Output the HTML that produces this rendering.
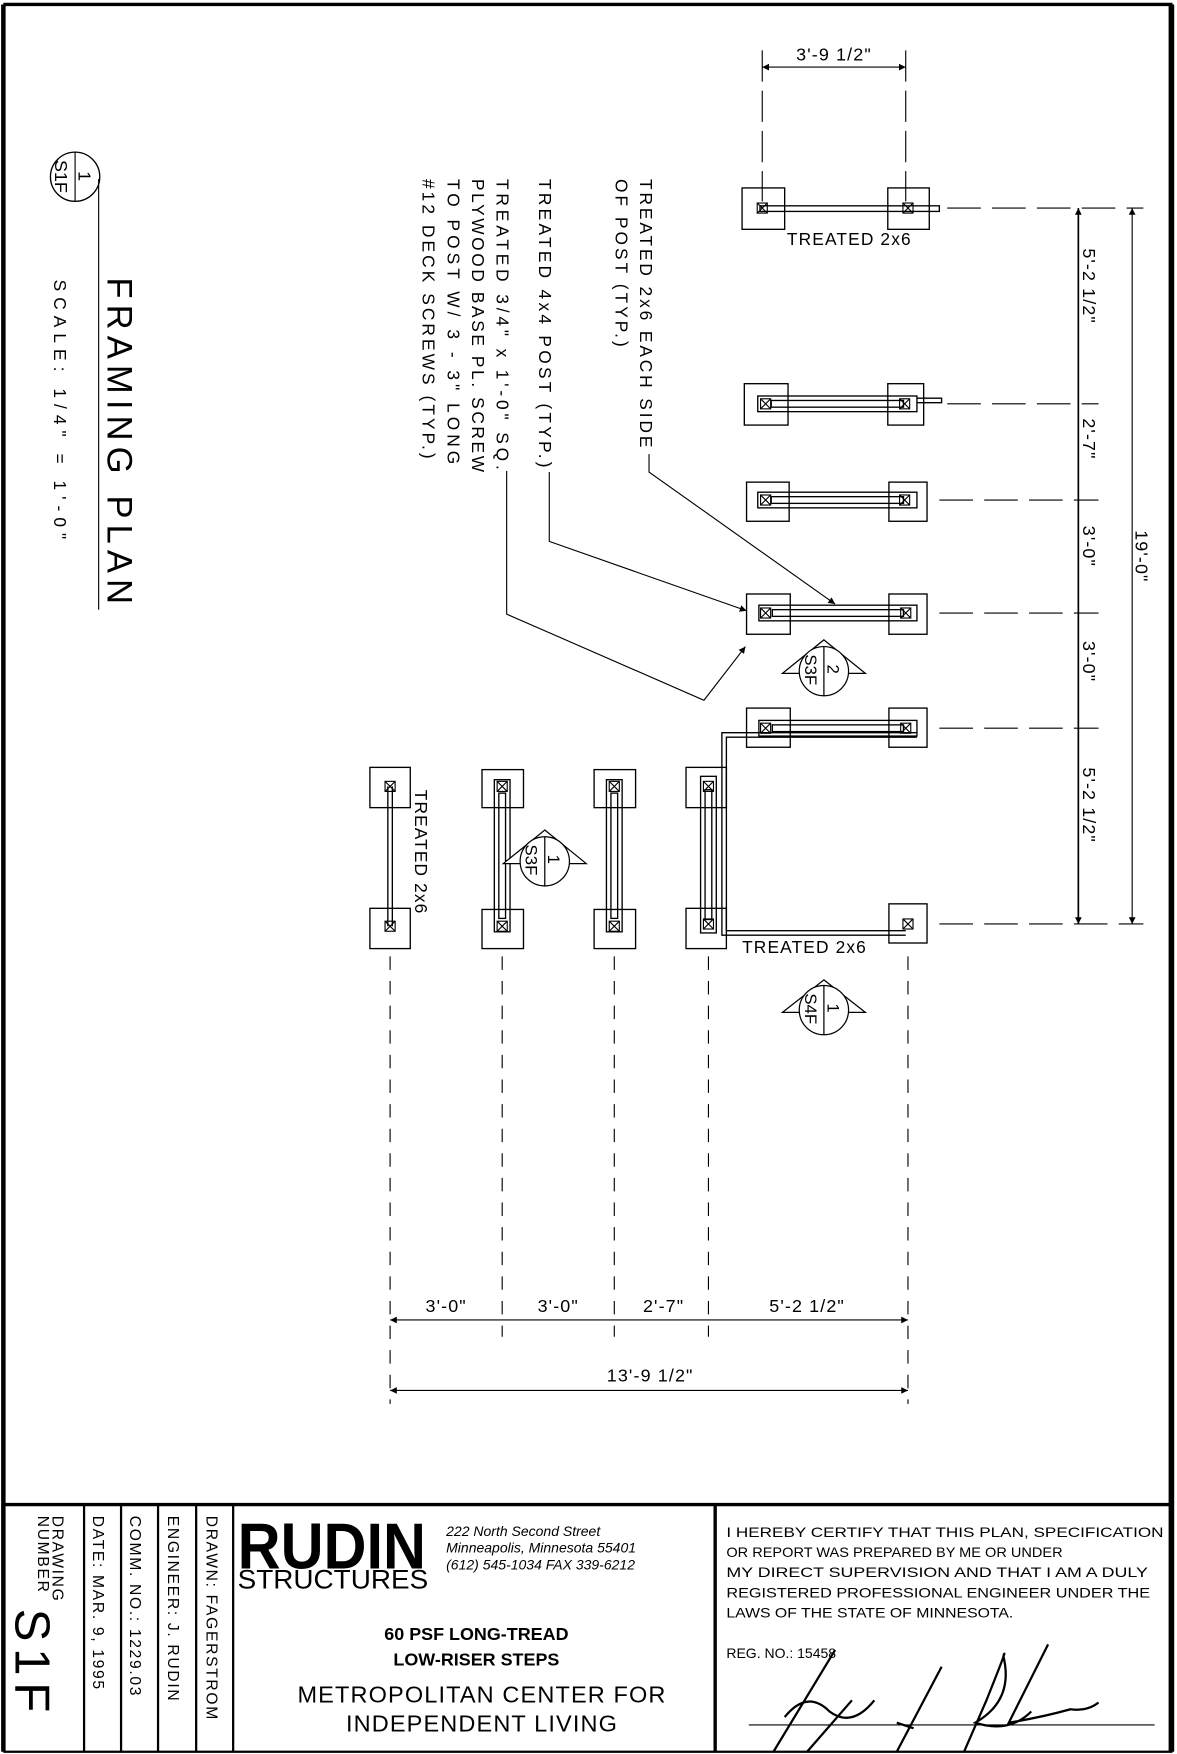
<!DOCTYPE html>
<html><head><meta charset="utf-8"><style>
html,body{margin:0;padding:0;background:#fff}
svg{display:block}
text{font-family:"Liberation Sans",sans-serif;fill:#000}
</style></head><body>
<svg width="1177" height="1754" viewBox="0 0 1050 1568" preserveAspectRatio="none" xmlns="http://www.w3.org/2000/svg">
<defs>
<g id="p" fill="none" stroke="#000" stroke-width="1"><rect x="-4.5" y="-4.5" width="9" height="9"/><path d="M-4.5-4.5L4.5 4.5M4.5-4.5L-4.5 4.5"/></g>
<marker id="ar" viewBox="0 0 10 10" refX="10" refY="5" markerWidth="10" markerHeight="6" orient="auto-start-reverse" markerUnits="userSpaceOnUse"><path d="M0 0L10 5L0 10z" fill="#000"/></marker>
</defs>
<rect width="1050" height="1568" fill="#fff"/>
<g fill="none" stroke="#000">
<path d="M3 4H1046" stroke-width="3"/>
<path d="M1045 4V1566" stroke-width="5"/>
<path d="M3 4V1566" stroke-width="4"/>
<path d="M3 1345H1046" stroke-width="3"/>
<path d="M3 1566H1046" stroke-width="2"/>
<path d="M75 1345V1566M108 1345V1566M141 1345V1566M175 1345V1566M208 1345V1566" stroke-width="2"/>
<path d="M638 1345V1566" stroke-width="3"/>
</g>

<circle cx="67" cy="158" r="22" fill="none" stroke="#000" stroke-width="1.2"/>
<path d="M67 136V180M88 160V545" stroke="#000" stroke-width="1"/>
<text transform="translate(70,153) rotate(90)" font-size="16">1</text>
<text transform="translate(49,143) rotate(90)" font-size="16">S1F</text>
<text transform="translate(96,248) rotate(90)" font-size="31" textLength="292" lengthAdjust="spacing">FRAMING PLAN</text>
<text transform="translate(48,250) rotate(90)" font-size="15.5" textLength="232" lengthAdjust="spacing">SCALE: 1/4" = 1'-0"</text>

<g font-size="15.5">
<text transform="translate(571,160) rotate(90)" textLength="240" lengthAdjust="spacing">TREATED 2x6 EACH SIDE</text>
<text transform="translate(549,160) rotate(90)" textLength="150" lengthAdjust="spacing">OF POST (TYP.)</text>
<text transform="translate(481,160) rotate(90)" textLength="258" lengthAdjust="spacing">TREATED 4x4 POST (TYP.)</text>
<text transform="translate(443,160) rotate(90)" textLength="260" lengthAdjust="spacing">TREATED 3/4" x 1'-0" SQ.</text>
<text transform="translate(421,160) rotate(90)" textLength="262" lengthAdjust="spacing">PLYWOOD BASE PL. SCREW</text>
<text transform="translate(399,160) rotate(90)" textLength="255" lengthAdjust="spacing">TO POST W/ 3 - 3" LONG</text>
<text transform="translate(377,160) rotate(90)" textLength="250" lengthAdjust="spacing">#12 DECK SCREWS (TYP.)</text>
</g>
<g fill="none" stroke="#000" stroke-width="1">
<path d="M579 406V422L745 540" marker-end="url(#ar)"/>
<path d="M490 422V484L666 546" marker-end="url(#ar)"/>
<path d="M452 421V549L628 626L665 578" marker-end="url(#ar)"/>
</g>

<g fill="none" stroke="#000" stroke-width="1.2">
<rect x="662" y="168" width="38" height="37"/><rect x="792" y="168" width="37" height="37"/>
<rect x="678" y="184" width="160" height="5"/>
<rect x="664" y="343" width="39" height="37"/><rect x="792" y="343" width="32" height="37"/>
<rect x="676" y="354" width="142" height="14"/><rect x="688" y="358" width="118" height="6"/>
<path d="M818 356H840V360H818"/>
<rect x="666" y="431" width="38" height="35"/><rect x="793" y="431" width="34" height="35"/>
<rect x="676" y="440" width="142" height="14"/><rect x="688" y="444" width="118" height="6"/>
<rect x="666" y="531" width="39" height="36"/><rect x="793" y="531" width="34" height="36"/>
<rect x="677" y="541" width="141" height="14"/><rect x="689" y="545" width="117" height="6"/>
<rect x="666" y="633" width="39" height="35"/><rect x="793" y="633" width="34" height="35"/>
<rect x="677" y="644" width="141" height="14"/><rect x="689" y="648" width="117" height="6"/>
<path d="M818 655H644V836H808M818 659H648V832H808"/>
<rect x="793" y="808" width="34" height="35"/>
</g>
<g>
<use href="#p" x="680" y="186"/><use href="#p" x="810" y="186"/>
<use href="#p" x="683" y="361"/><use href="#p" x="807" y="361"/>
<use href="#p" x="683" y="447"/><use href="#p" x="807" y="447"/>
<use href="#p" x="683" y="548"/><use href="#p" x="808" y="548"/>
<use href="#p" x="683" y="651"/><use href="#p" x="808" y="651"/>
<use href="#p" x="810" y="826"/>
</g>
<text x="702" y="219" font-size="15.5" letter-spacing="1">TREATED 2x6</text>
<text x="662" y="852" font-size="15.5" letter-spacing="1">TREATED 2x6</text>

<g fill="none" stroke="#000" stroke-width="1.2">
<rect x="330" y="686" width="36" height="36"/><rect x="330" y="812" width="36" height="36"/>
<path d="M346 703V828M350 703V828"/>
<rect x="430" y="688" width="37" height="34"/><rect x="430" y="813" width="37" height="35"/>
<rect x="441" y="697" width="14" height="136"/><rect x="445" y="709" width="6" height="112"/>
<rect x="530" y="688" width="37" height="34"/><rect x="530" y="813" width="37" height="35"/>
<rect x="541" y="697" width="14" height="136"/><rect x="545" y="709" width="6" height="112"/>
<rect x="612" y="686" width="36" height="36"/><rect x="612" y="812" width="36" height="36"/>
<rect x="625" y="694" width="14" height="140"/><rect x="629" y="706" width="6" height="116"/>
</g>
<g>
<use href="#p" x="348" y="703"/><use href="#p" x="348" y="828"/>
<use href="#p" x="448" y="703"/><use href="#p" x="448" y="828"/>
<use href="#p" x="548" y="703"/><use href="#p" x="548" y="828"/>
<use href="#p" x="632" y="703"/><use href="#p" x="632" y="826"/>
</g>
<text transform="translate(370,706) rotate(90)" font-size="15.5" letter-spacing="1">TREATED 2x6</text>

<g fill="#fff" stroke="#000" stroke-width="1.1">
<path d="M735 572L772 602H698Z"/><circle cx="735" cy="600" r="22"/>
<path d="M735 876L772 905H698Z"/><circle cx="735" cy="903" r="22"/>
<path d="M486 742L523 772H449Z"/><circle cx="486" cy="770" r="22"/>
<path d="M735 578V622M735 881V925M486 748V792" fill="none"/>
</g>
<g font-size="15">
<text transform="translate(738,594) rotate(90)">2</text><text transform="translate(718,585) rotate(90)">S3F</text>
<text transform="translate(738,897) rotate(90)">1</text><text transform="translate(718,888) rotate(90)">S4F</text>
<text transform="translate(489,764) rotate(90)">1</text><text transform="translate(469,755) rotate(90)">S3F</text>
</g>

<g fill="none" stroke="#000" stroke-width="1">
<path d="M680 45V180M808 45V180" stroke-dasharray="28 8"/>
<path d="M680 60H808" marker-start="url(#ar)" marker-end="url(#ar)"/>
<path d="M845 186H1020M845 361H980M838 447H980M838 548H980M838 651H980M838 826H1020" stroke-dasharray="30 10"/>
<path d="M962 186V352M962 352V434M962 434V548M962 548V651M962 651V826" marker-start="url(#ar)" marker-end="url(#ar)" stroke-width="1.5"/>
<path d="M1010 186V826" marker-start="url(#ar)" marker-end="url(#ar)"/>
<path d="M348 855V1255M448 855V1195M548 855V1195M632 855V1195M810 855V1255" stroke-dasharray="12 10"/>
<path d="M348 1180H448M448 1180H548M548 1180H632M632 1180H810" marker-start="url(#ar)" marker-end="url(#ar)"/>
<path d="M348 1243H810" marker-start="url(#ar)" marker-end="url(#ar)"/>
</g>
<g font-size="16" letter-spacing="1">
<text x="744" y="54" text-anchor="middle">3'-9 1/2"</text>
<text transform="translate(966,222) rotate(90)">5'-2 1/2"</text>
<text transform="translate(966,374) rotate(90)">2'-7"</text>
<text transform="translate(966,470) rotate(90)">3'-0"</text>
<text transform="translate(966,573) rotate(90)">3'-0"</text>
<text transform="translate(966,686) rotate(90)">5'-2 1/2"</text>
<text transform="translate(1013,474) rotate(90)">19'-0"</text>
<text x="398" y="1173" text-anchor="middle">3'-0"</text>
<text x="498" y="1173" text-anchor="middle">3'-0"</text>
<text x="592" y="1173" text-anchor="middle">2'-7"</text>
<text x="720" y="1173" text-anchor="middle">5'-2 1/2"</text>
<text x="580" y="1235" text-anchor="middle">13'-9 1/2"</text>
</g>

<g font-size="14" letter-spacing="1.5">
<text transform="translate(47,1355) rotate(90)">DRAWING</text>
<text transform="translate(34,1355) rotate(90)">NUMBER</text>
<text transform="translate(14,1438) rotate(90)" font-size="44" letter-spacing="6">S1F</text>
<text transform="translate(83,1355) rotate(90)">DATE: MAR. 9, 1995</text>
<text transform="translate(116,1355) rotate(90)">COMM. NO.: 1229.03</text>
<text transform="translate(150,1355) rotate(90)">ENGINEER: J. RUDIN</text>
<text transform="translate(184,1355) rotate(90)">DRAWN: FAGERSTROM</text>
</g>
<text x="212" y="1402" font-size="58" font-weight="bold" font-family="Liberation Serif" textLength="168" lengthAdjust="spacingAndGlyphs">RUDIN</text>
<text x="212" y="1420" font-size="24" textLength="170" lengthAdjust="spacingAndGlyphs">STRUCTURES</text>
<g font-size="12.5" font-style="italic">
<text x="398" y="1373">222 North Second Street</text>
<text x="398" y="1388">Minneapolis, Minnesota 55401</text>
<text x="398" y="1403">(612) 545-1034  FAX 339-6212</text>
</g>
<text x="425" y="1466" font-size="16" font-weight="bold" text-anchor="middle">60 PSF LONG-TREAD</text>
<text x="425" y="1489" font-size="16" font-weight="bold" text-anchor="middle">LOW-RISER STEPS</text>
<text x="430" y="1522" font-size="21" text-anchor="middle" letter-spacing="1">METROPOLITAN  CENTER FOR</text>
<text x="430" y="1548" font-size="21" text-anchor="middle" letter-spacing="1">INDEPENDENT  LIVING</text>
<g font-size="12.5">
<text x="648" y="1374" textLength="390" lengthAdjust="spacingAndGlyphs">I HEREBY CERTIFY THAT THIS PLAN, SPECIFICATION</text>
<text x="648" y="1392" textLength="300" lengthAdjust="spacingAndGlyphs">OR REPORT WAS PREPARED BY ME OR UNDER</text>
<text x="648" y="1410" textLength="376" lengthAdjust="spacingAndGlyphs">MY DIRECT SUPERVISION AND THAT I AM A DULY</text>
<text x="648" y="1428" textLength="378" lengthAdjust="spacingAndGlyphs">REGISTERED PROFESSIONAL ENGINEER UNDER THE</text>
<text x="648" y="1446" textLength="256" lengthAdjust="spacingAndGlyphs">LAWS OF THE STATE OF MINNESOTA.</text>
<text x="648" y="1482">REG. NO.: 15458</text>
</g>
<path d="M668 1542H1030" stroke="#000" stroke-width="1"/>
<path d="M745 1475L690 1566M760 1520L720 1566M700 1535Q720 1510 740 1530Q760 1545 780 1520M840 1490L800 1566M800 1540L815 1545M895 1480Q900 1470 880 1520L860 1566M895 1480Q905 1520 870 1540Q900 1550 920 1530M935 1470L900 1540Q930 1535 955 1528Q970 1530 980 1522" fill="none" stroke="#000" stroke-width="2"/>
</svg>
</body></html>
